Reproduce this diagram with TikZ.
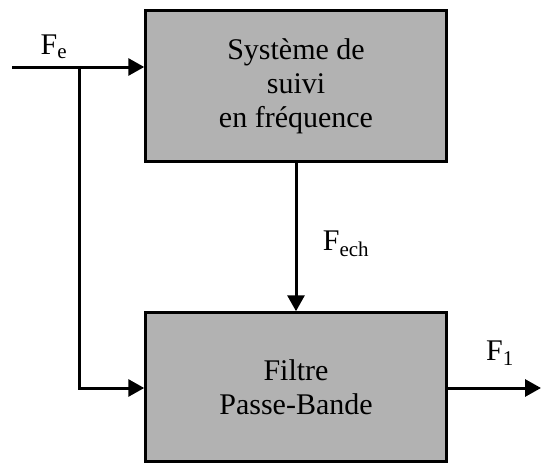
\documentclass[tikz,border=0pt]{standalone}
\usepackage{fontspec}
\setmainfont{Liberation Serif}
\usetikzlibrary{arrows.meta}
\begin{document}
\begin{tikzpicture}[x=1pt,y=-1pt,
  blockbox/.style={draw=black,line width=2.5pt,fill=black!30,minimum width=301pt,align=center,font=\fontsize{30}{34}\selectfont,inner sep=0pt},
  conn/.style={line width=3pt,-{Triangle[length=16pt,width=17pt]}},
  lbl/.style={font=\fontsize{30}{34}\selectfont,inner sep=0pt}]
\useasboundingbox (0,0) rectangle (541,463);
\node[blockbox,minimum height=151pt] (sys) at (296,86) {Système de\\suivi\\en fréquence};
\node[blockbox,minimum height=149pt] (filt) at (296,387) {Filtre\\Passe-Bande};
\coordinate (in) at (12,67);
\coordinate (br) at (79,67);
\coordinate (out) at (541,388);
\draw[conn] (in) -- (sys.west |- in);
\draw[conn] (br) |- (filt.west |- 0,388);
\draw[conn] (sys.south) -- (filt.north);
\draw[conn] (filt.east |- out) -- (out);
\node[lbl] (fe) at (54,47) {F\textsubscript{e}};
\node[lbl] (fech) at (346,244) {F\textsubscript{ech}};
\node[lbl] (f1) at (500,353) {F\textsubscript{1}};
\end{tikzpicture}
\end{document}
